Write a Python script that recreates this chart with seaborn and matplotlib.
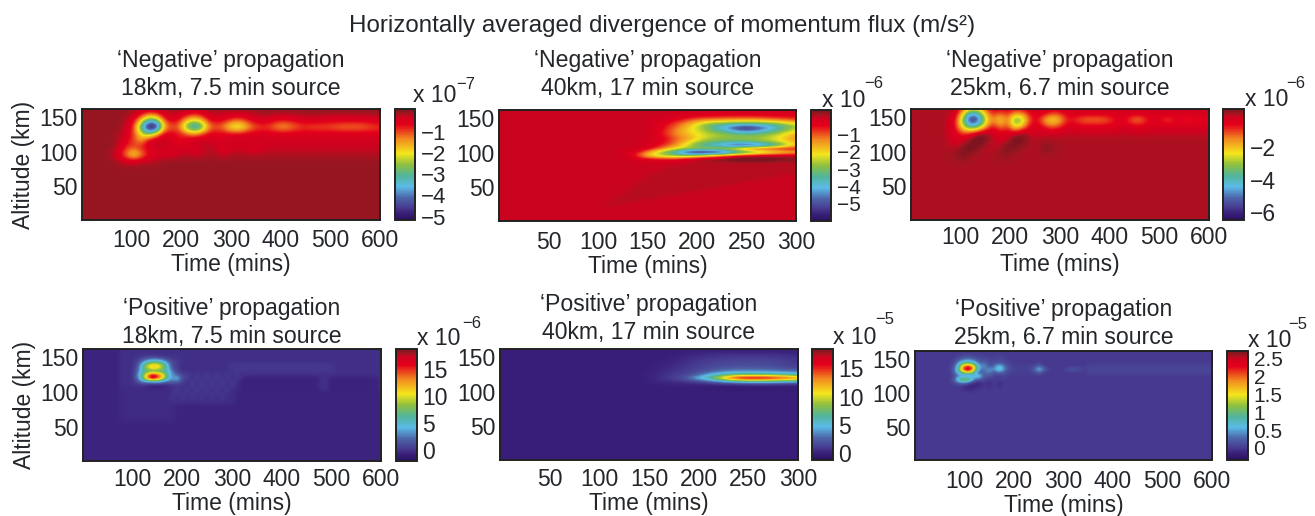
import numpy as np
import pandas as pd
import seaborn as sns
from matplotlib import pyplot as plt
from matplotlib.colors import LinearSegmentedColormap

FIG_W, FIG_H = 1315, 516
TEXT_COLOR = '#23272b'
FONT_SIZE = 16.5

times_600 = np.arange(0, 601, 15)
times_600_fine = np.arange(0, 601, 10)
times_300 = np.arange(0, 301, 10)
alts_coarse = np.arange(-5, 170, 10)
alts_fine = np.arange(-5, 170, 5)

# (altitude, first time, values) in colour-bar units
neg18_rows = [
    (155, 60, [-.1, -.1, -.1, -.2, -.5, -.8, -.7, -.3, -.2, -.2, -.4, -.6, -.5, -.2, -.2, -.2, -.2, -.2, -.2, -.2]),
    (145, 60, [-.1, -.1, -.2, -.6, -1.7, -3.1, -2.7, -1.0, -.5, -.7, -1.5, -2.0, -1.6, -.7, -.5, -.6, -.9, -1.1, -.8, -.5, -.4, -.4, -.6, -.7, -.6, -.5, -.4, -.4, -.4, -.5, -.5, -.5, -.5, -.5, -.5, -.4, -.4]),
    (135, 60, [-.1, -.1, -.3, -1.0, -3.3, -5.7, -5.4, -1.8, -1.1, -1.2, -2.9, -4.0, -3.4, -1.5, -1.1, -1.4, -2.2, -2.5, -1.9, -1.2, -1.0, -1.0, -1.4, -1.6, -1.4, -1.1, -1.0, -1.1, -1.1, -1.1, -1.2, -1.3, -1.3, -1.3, -1.2, -1.1, -1.0]),
    (125, 60, [-.1, -.2, -.4, -1.0, -2.1, -2.8, -1.6, -.5, -.6, -.7, -1.0, -1.4, -1.0, -.6, -.6, -.6, -.6, -.6, -.5, -.5, -.5, -.5, -.5, -.5, -.5, -.5, -.5, -.5, -.5, -.5, -.5, -.5, -.5, -.5, -.5, -.5, -.5]),
    (115, 60, [-.1, -.2, -.6, -1.0, -1.5, -.3, -.2, -.2, -.4, -.8, -.5, -.2, -.2, -.3, -.4, -.4, -.3, -.3, -.3, -.3, -.3, -.3, -.3, -.3, -.3, -.3, -.3, -.3, -.3, -.3, -.3, -.3, -.3, -.3, -.3, -.3, -.3]),
    (105, 60, [-.1, -.3, -.9, -1.0, -.7, -.5, -.3, -.3, -.4, -.4, -.4, -.5, -.3, -.2, -.3, -.5, -.4, -.3, -.4, -.5, -.4, -.3, -.3, -.3, -.3, -.3, -.3, -.3, -.3, -.3, -.3, -.3, -.3, -.3, -.3, -.3, -.3]),
    (95, 60, [-.2, -.6, -1.4, -2.2, -1.4, -.7, -.4, -.4, -.4, -.3, -.2, -.3, -.3, -.2, -.2, -.3, -.2, -.2, -.2, -.2, -.2, -.2, -.2, -.2, -.2, -.2, -.2, -.2, -.2, -.2, -.2, -.2, -.2, -.2, -.2, -.2, -.2]),
    (85, 60, [-.1, -.2, -.3, -.3, -.2, -.2, -.2]),
]

neg40_bands = [
    (25, 25, 110, 125, .08), (30, 30, 115, 145, .08), (35, 35, 120, 165, .08),
    (40, 40, 125, 185, .08), (45, 45, 130, 205, .08), (50, 50, 135, 225, .08),
    (55, 55, 140, 245, .08), (60, 60, 145, 265, .08), (65, 65, 150, 285, .08),
    (70, 70, 160, 300, .08), (75, 75, 170, 300, .08), (80, 80, 180, 300, .08),
    (85, 85, 195, 300, .08), (90, 90, 215, 300, .08),
]
neg40_rows = [
    (155, 130, [0, 0, 0, 0, 0, -.1, -.1, -.2, -.2, -.3, -.3, -.3, -.3, -.3, -.3, -.3, -.3, -.3]),
    (150, 130, [0, 0, 0, 0, 0, -.2, -.4, -.6, -.7, -.7, -.8, -.8, -.8, -.8, -.7, -.6, -.6, -.5]),
    (145, 130, [0, 0, 0, -.1, -.3, -.6, -1.0, -1.4, -1.7, -1.8, -1.9, -2, -2, -2, -1.9, -1.7, -1.4, -1.2]),
    (140, 130, [0, 0, 0, -.2, -.5, -1.0, -1.5, -2.2, -2.9, -3.2, -3.5, -3.7, -3.8, -3.7, -3.5, -3.2, -2.8, -2.4]),
    (135, 130, [0, 0, 0, -.2, -.7, -1.2, -1.8, -2.4, -3, -3.8, -4.4, -5.2, -5.6, -5.2, -4.6, -3.9, -3.2, -2.6]),
    (130, 130, [0, 0, 0, -.3, -.8, -1.4, -1.9, -2.3, -2.7, -3.1, -3.6, -4.2, -4.4, -4.2, -3.7, -3.2, -2.6, -2.1]),
    (125, 130, [0, 0, 0, -.3, -.8, -1.3, -1.7, -2.1, -2.4, -2.6, -2.8, -3, -3, -3, -2.8, -2.5, -2, -1.6]),
    (120, 130, [0, 0, 0, -.2, -.6, -1.1, -1.5, -2, -2.5, -2.7, -2.8, -2.8, -2.8, -2.7, -2.5, -2.2, -1.8, -1.4]),
    (115, 130, [0, 0, -.1, -.3, -.6, -1.2, -1.8, -2.5, -3, -3.2, -3.3, -3.3, -3.2, -3, -2.8, -2.4, -2.0, -1.6]),
    (110, 130, [0, 0, -.1, -.4, -.9, -1.5, -2.4, -3.2, -3.8, -4.2, -4.8, -5.4, -5.4, -5.2, -4.5, -3.8, -2.8, -2.0]),
    (105, 130, [0, 0, -.3, -.9, -1.6, -2.2, -2.5, -2.6, -2.4, -2.2, -2.0, -1.4, -.8, -.5, -.4, -.3, -.3, -.3]),
    (100, 130, [-.1, -.5, -1.4, -2.4, -3.2, -4.2, -5.4, -6.0, -6.0, -5.9, -5.2, -4.4, -3.8, -3.2, -2.8, -2.4, -2.0, -1.8]),
    (95, 130, [-.1, -.8, -1.8, -2.4, -2.7, -2.9, -2.8, -2.5, -2.0, -1.5, -1.0, -.6, -.3, -.2, 0, 0, 0, 0]),
    (90, 130, [0, -.2, -.4, -.5, -.6, -.5, -.1, .1, .3, .4, .6, .8, .9, .9, .8, .6, .5, .4]),
]

neg25_rows = [
    (165, 60, [0, 0, -.1, -.6, -1.2, -1.2, -.6, -.2, -.2, -.2, -.2, -.2, -.2, -.2, -.2, -.2, -.2]),
    (155, 60, [0, 0, -.3, -2.0, -4.2, -3.8, -1.9, -.7, -1.2, -.8, -1.5, -1.3, -.6, -.3, -.4, -.9, -.8, -.4, -.3, -.3, -.3, -.3, -.3, -.3, -.3, -.3, -.3, -.3, -.3, -.3, -.3, -.3, -.3, -.3, -.3, -.3, -.3]),
    (145, 60, [0, -.1, -.7, -3.4, -6.4, -5.8, -2.7, -1.5, -2.5, -1.2, -3.9, -3.0, -1.0, -.6, -2.0, -2.6, -2.0, -.8, -1.0, -1.4, -1.5, -1.5, -1.4, -1.0, -.6, -.8, -1.6, -1.4, -.7, -.5, -1.1, -1.0, -.6, -1.0, -.7, -.6, -.6]),
    (135, 60, [0, -.1, -.7, -2.6, -3.9, -3.4, -1.8, -.5, -1.5, -.9, -2.6, -1.7, -.5, -.3, -.8, -1.2, -.8, -.4, -.3, -.4, -.4, -.4, -.4, -.4, -.3, -.3, -.4, -.4, -.3, -.3, -.3, -.3, -.3, -.3, -.3, -.3, -.3]),
    (125, 60, [0, -.1, -.5, -.9, -.5, .1, .4, -.2, -.4, -.3, -.1, .4, -.2, -.2, -.1, -.1, -.1, -.1, -.1, -.1, -.1, -.1, -.1, -.1, -.1, -.1, -.1, -.1, -.1, -.1, -.1, -.1, -.1, -.1, -.1, -.1, -.1]),
    (115, 60, [0, -.1, -.3, -.2, .2, .8, .2, -.1, -.2, -.1, .6, .3]),
    (105, 60, [0, 0, -.1, .2, .6, .1, -.1, -.1, 0, .4, .2, 0, 0, -.1, .3, .1]),
    (95, 60, [0, 0, .1, .4, 0, 0, 0, 0, .1, .1]),
]

pos18_bands = [
    (105, 165, 80, 600, -.1), (60, 105, 80, 180, -.3), (85, 105, 180, 300, -.2),
    (95, 120, 320, 470, -.6), (95, 120, 500, 590, -.6), (130, 140, 300, 500, .2),
]
pos18_rows = [
    (150, 110, [.1, .4, .8, 1, .8, .4, .1, .1, .1]),
    (145, 110, [.5, 2, 4, 5, 5, 4, 2, .5, .3]),
    (140, 110, [1, 5, 9, 10.5, 10.5, 8, 4.5, 1, .3]),
    (135, 110, [1.5, 6, 10, 12, 11.5, 9, 5, 1, .3]),
    (130, 110, [2, 5.5, 6, 6, 6, 6, 5, 3, .5]),
    (125, 110, [3, 7, 13, 17, 15, 12, 6, 3, 2, .6, .6, -.2, .5, -.2, .5, -.2, .5, -.2, .4, -.2, .3, -.2]),
    (120, 110, [2.5, 7, 13, 18, 15, 11, 6, 3, 5, 1, .6, -.2, .5, -.2, .5, -.2, .5, -.2, .4, -.2, .3, -.2]),
    (115, 110, [1, 3, 3, 4, 4, 3, 2, 2, 2, .5, -.2, .5, -.2, .5, -.2, .5, -.2, .4, -.2, .3, -.2]),
    (110, 110, [0, 0, -.4, -1, -1, -.7, -.3, 0, 0, .1, -.2, .5, -.2, .5, -.2, .5, -.2, .4, -.2, .3, -.2]),
    (105, 190, [.4, -.2, .4, -.2, .4, -.2, .4, -.2, .3, -.2, .2]),
    (100, 190, [.4, -.2, .4, -.2, .4, -.2, .4, -.2, .3, -.2, .2]),
    (95, 180, [.2, -.2, .2, -.2, .2, -.2, .2, -.2, .2, -.2, .2]),
    (90, 180, [.2, -.2, .2, -.2, .2, -.2, .2, -.2, .2, -.2, .2]),
]

pos40_rows = [
    (155, 150, [0, 0, 0, 0, .2, .3, .4, .5, .5, .5, .5, .5, .5, .4, .3, .3]),
    (150, 150, [0, 0, 0, .2, .4, .6, .8, .9, 1, 1, 1, 1, 1, .9, .8, .7]),
    (145, 150, [0, 0, .1, .3, .6, .9, 1.1, 1.2, 1.3, 1.4, 1.4, 1.4, 1.3, 1.2, 1.0, .8]),
    (140, 150, [0, .1, .2, .5, .8, 1.1, 1.3, 1.5, 1.6, 1.7, 1.7, 1.6, 1.6, 1.4, 1.2, 1.0]),
    (135, 150, [0, .2, .4, .7, 1, 1.3, 1.6, 1.9, 2.1, 2.2, 2.2, 2.1, 2.0, 1.8, 1.5, 1.3]),
    (130, 150, [0, .3, .5, .9, 1.2, 1.6, 2.2, 3, 3.4, 3.6, 3.6, 3.6, 3.4, 3.2, 3, 2.8]),
    (125, 150, [.1, .4, .8, 1.1, 1.5, 2.5, 4.5, 5.5, 6.5, 7, 7.2, 7.2, 7, 6.5, 6, 5.5]),
    (120, 150, [.1, .5, 1, 1.5, 3, 5.5, 7, 11, 15, 18, 18.5, 18.5, 18, 17, 16, 14]),
    (115, 150, [.1, .3, .5, .7, 1, 1.5, 2.5, 3.5, 4.5, 5.5, 6, 6, 6, 5.5, 5, 4.5]),
    (110, 150, [0, 0, 0, .1, .1, 0, 0, .1, .1, .1, .2, .2, .2, .1, .1, .1]),
    (105, 150, [0, 0, 0, 0, 0, -.1, -.2, -.3, -.4, -.4, -.4, -.4, -.4, -.3, -.3, -.2]),
]

pos25_bands = [(130, 140, 200, 240, .04), (130, 140, 350, 600, .07)]
pos25_rows = [
    (155, 70, [0, 0, .05, .1, .1, .05, .05, .05, 0, .05, .05, 0, 0]),
    (150, 70, [0, .05, .15, .3, .35, .25, .1, .1, .05, .05, .1, .05, 0]),
    (145, 70, [0, .1, .5, .9, .8, .6, .2, .3, .1, .1, .15, .1, .05]),
    (140, 70, [0, .2, 1, 2.0, 2.2, 1.4, .4, .5, .1, .3, .7, .3, .1]),
    (135, 70, [0, .3, 1.2, 2.5, 2.7, 1.5, .4, .25, .5, .4, .9, .4, .1]),
    (130, 70, [0, .25, .8, 1.2, 1.4, .7, .1, .3, .4, .1, .3, .15, .05]),
    (125, 70, [0, .1, .4, .1, .2, .7, .8, .1, .2, .05, -.05, .1, 0]),
    (120, 70, [0, .3, 1.1, 1.5, 1.2, .3, .2, .1, 0, 0, .05, 0, 0]),
    (115, 70, [0, .1, .3, .3, .05, -.1, -.15, 0, -.1, .05, -.1, 0, 0]),
    (110, 70, [0, 0, 0, -.1, -.15, -.1, -.1, .03, -.08, .03, -.08, .03, 0]),
    (105, 70, [0, 0, 0, -.05, -.1, -.05]),
    (135, 240, [.25, .7, .3]),
    (140, 250, [.3]),
    (130, 250, [.25]),
    (135, 310, [.15, .2, .15]),
]

ticks_time_600 = [100, 200, 300, 400, 500, 600]
ticks_time_300 = [50, 100, 150, 200, 250, 300]
ticks_alt = [50, 100, 150]

titles = [
    '\u2018Negative\u2019 propagation\n18km, 7.5 min source',
    '\u2018Negative\u2019 propagation\n40km, 17 min source',
    '\u2018Negative\u2019 propagation\n25km, 6.7 min source',
    '\u2018Positive\u2019 propagation\n18km, 7.5 min source',
    '\u2018Positive\u2019 propagation\n40km, 17 min source',
    '\u2018Positive\u2019 propagation\n25km, 6.7 min source',
]
bar_ticks = [
    [-1, -2, -3, -4, -5], [-1, -2, -3, -4, -5], [-2, -4, -6],
    [0, 5, 10, 15], [0, 5, 10, 15], [0, .5, 1, 1.5, 2, 2.5],
]
bar_labels = [
    ['\u22121', '\u22122', '\u22123', '\u22124', '\u22125'],
    ['\u22121', '\u22122', '\u22123', '\u22124', '\u22125'],
    ['\u22122', '\u22124', '\u22126'],
    ['0', '5', '10', '15'], ['0', '5', '10', '15'],
    ['0', '0.5', '1', '1.5', '2', '2.5'],
]
exponents = ['\u22127', '\u22126', '\u22126', '\u22126', '\u22125', '\u22125']

# px boxes: axes, colour bar, exponent text (x, baseline, exp x, exp baseline)
panel_layout = [
    dict(box=(82, 109, 380, 220), bar=(395, 415), lim=(-5.16, .07), exp=(413, 102, 456, 89), pad=14, tpad=6.5, lpad=1, barfont=16),
    dict(box=(499, 110, 796, 221), bar=(811, 831), lim=(-6.04, .45), exp=(822, 107, 864, 88), pad=15, tpad=7, lpad=1, barfont=15),
    dict(box=(911, 109, 1209, 220), bar=(1223, 1244), lim=(-6.47, .32), exp=(1245, 106, 1286, 88), pad=14, tpad=4.5, lpad=3, barfont=16.5),
    dict(box=(83, 349, 381, 461), bar=(396, 417), lim=(-2.0, 18.7), exp=(417, 345, 462, 328), pad=6, tpad=5, lpad=1, barfont=16.5),
    dict(box=(500, 349, 798, 460), bar=(812, 833), lim=(-1.2, 18.4), exp=(833, 344, 875, 324), pad=10, tpad=5.5, lpad=1, barfont=16.5),
    dict(box=(915, 351, 1212, 460), bar=(1227, 1248), lim=(-.34, 2.72), exp=(1248, 347, 1288, 329), pad=7, tpad=7, lpad=1, barfont=15),
]


def build_field(times, alts, background, rows, bands=()):
    field = pd.DataFrame(float(background), index=alts, columns=times)
    for alt_lo, alt_hi, t_lo, t_hi, value in bands:
        field.loc[alt_lo:alt_hi, t_lo:t_hi] = value
    for alt, start, values in rows:
        col = list(times).index(start)
        field.iloc[list(alts).index(alt), col:col + len(values)] = values
    return field


fields = [
    build_field(times_600, alts_coarse, -.1, neg18_rows),
    build_field(times_300, alts_fine, 0, neg40_rows, neg40_bands),
    build_field(times_600, alts_coarse, 0, neg25_rows),
    build_field(times_600_fine, alts_fine, -.5, pos18_rows, pos18_bands),
    build_field(times_300, alts_fine, 0, pos40_rows),
    build_field(times_600_fine, alts_fine, 0, pos25_rows, pos25_bands),
]

# colour bar read from the top (vmax) down
cmap_stops = [
    (0, '#7f1420'), (.03, '#961620'), (.05, '#b01020'), (.07, '#d0021f'), (.14, '#e4001b'),
    (.27, '#f28a20'), (.40, '#f4e61c'), (.50, '#8fc03f'), (.60, '#52b59a'), (.70, '#5bbbe8'),
    (.80, '#4d66a8'), (.89, '#473a90'), (.94, '#3a1f7a'), (1, '#2a1060'),
]
jet_like = LinearSegmentedColormap.from_list('jet_like', [(1 - p, c) for p, c in reversed(cmap_stops)])

sns.set_style('ticks')
plt.rcParams['font.family'] = ['Liberation Sans', 'DejaVu Sans']
plt.rcParams['text.color'] = TEXT_COLOR
plt.rcParams['axes.labelcolor'] = TEXT_COLOR
plt.rcParams['xtick.color'] = TEXT_COLOR
plt.rcParams['ytick.color'] = TEXT_COLOR

fig = plt.figure(figsize=(FIG_W / 100, FIG_H / 100), dpi=100)


def px_rect(x0, y0, x1, y1):
    return [x0 / FIG_W, 1 - y1 / FIG_H, (x1 - x0) / FIG_W, (y1 - y0) / FIG_H]


for i, (field, layout) in enumerate(zip(fields, panel_layout)):
    x0, y0, x1, y1 = layout['box']
    vmin, vmax = layout['lim']
    ax = fig.add_axes(px_rect(x0, y0, x1, y1))
    bar_ax = fig.add_axes(px_rect(layout['bar'][0], y0, layout['bar'][1], y1))
    sns.heatmap(
        field,
        cmap=jet_like,
        vmin=vmin,
        vmax=vmax,
        xticklabels=False,
        yticklabels=False,
        cbar_ax=bar_ax,
        ax=ax
    )
    # the same cells again, smoothed at drawing time like the original shaded plot
    ax.imshow(
        field.to_numpy(),
        cmap=jet_like,
        vmin=vmin,
        vmax=vmax,
        origin='lower',
        aspect='auto',
        extent=(0, field.shape[1], 0, field.shape[0]),
        interpolation='bicubic',
        interpolation_stage='data',
        zorder=2
    )
    time_step = field.columns[1] - field.columns[0]
    alt_step = field.index[1] - field.index[0]
    time_ticks = ticks_time_600 if field.columns[-1] == 600 else ticks_time_300
    # cell centres sit half a cell in from the heatmap's index position
    ax.set_xlim(.5, field.shape[1] - .5)
    ax.set_ylim((1 + 5) / alt_step + .5, (162 + 5) / alt_step + .5)
    ax.set_xticks([t / time_step + .5 for t in time_ticks], [str(t) for t in time_ticks], rotation=0)
    ax.set_yticks([(a + 5) / alt_step + .5 for a in ticks_alt], [str(a) for a in ticks_alt], rotation=0)
    ax.tick_params(direction='in', top=True, right=True, length=3, width=1.2, labelsize=FONT_SIZE)
    ax.tick_params(axis='x', pad=layout['tpad'])
    ax.tick_params(axis='y', pad=3.5)
    for spine in ax.spines.values():
        spine.set_visible(True)
        spine.set_linewidth(1.4)
        spine.set_color('#222222')
    ax.set_title(titles[i], fontsize=16.6, pad=layout['pad'] * .72, linespacing=1.27, color=TEXT_COLOR)
    ax.set_xlabel('Time (mins)', fontsize=FONT_SIZE, labelpad=layout['lpad'])
    ax.set_ylabel('Altitude (km)' if i % 3 == 0 else '', fontsize=FONT_SIZE, labelpad=3)

    colorbar = ax.collections[0].colorbar
    colorbar.set_ticks(bar_ticks[i], labels=bar_labels[i])
    colorbar.ax.tick_params(length=0, labelsize=layout['barfont'], pad=4)
    colorbar.outline.set_visible(True)
    colorbar.outline.set_linewidth(1.4)
    colorbar.outline.set_edgecolor('#222222')

    tx, ty, ex, ey = layout['exp']
    fig.text(tx / FIG_W, 1 - ty / FIG_H, 'x 10', fontsize=FONT_SIZE, va='baseline')
    fig.text(ex / FIG_W, 1 - ey / FIG_H, exponents[i], fontsize=12, va='baseline')

fig.text(662 / FIG_W, 1 - 32 / FIG_H, 'Horizontally averaged divergence of momentum flux (m/s\u00b2)',
         fontsize=17.4, ha='center', va='baseline')

plt.savefig('out.png', dpi=100)
